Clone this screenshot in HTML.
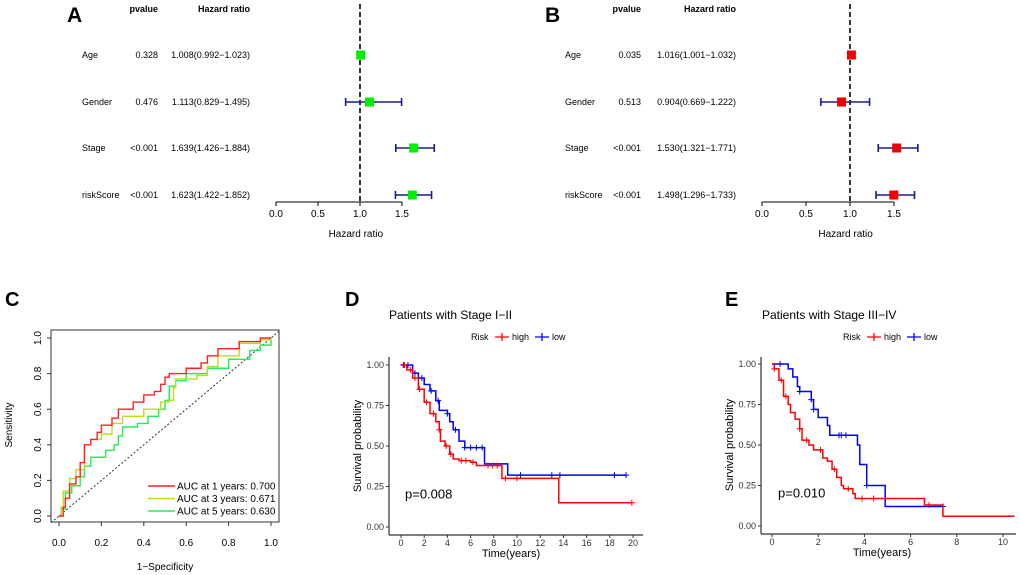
<!DOCTYPE html>
<html><head><meta charset="utf-8">
<style>
body{margin:0;background:#fff;}
svg{display:block;font-family:"Liberation Sans",Arial,sans-serif;}
</style></head>
<body>
<svg id="fig" width="1020" height="575" viewBox="0 0 1020 575">
<g id="gA"></g>
<g id="gB"></g>
<g id="gC"></g>
<g id="gD"></g>
<g id="gE"></g>
</svg>
<script>
// ---- Forest data ----
const forestVars = ["Age","Gender","Stage","riskScore"];
const aP = ["0.328","0.476","<0.001","<0.001"];
const aHR = [1.008,1.113,1.639,1.623];
const aLo = [0.992,0.829,1.426,1.422];
const aHi = [1.023,1.495,1.884,1.852];
const bP = ["0.035","0.513","<0.001","<0.001"];
const bHR = [1.016,0.904,1.530,1.498];
const bLo = [1.001,0.669,1.321,1.296];
const bHi = [1.032,1.222,1.771,1.733];
const forestTicks = [0,0.5,1.0,1.5];
// ---- ROC data ----
const rocTicks = [0,0.2,0.4,0.6,0.8,1.0];
const roc1x = [0,0.02,0.03,0.05,0.08,0.1,0.12,0.15,0.18,0.2,0.25,0.28,0.35,0.4,0.45,0.48,0.5,0.52,0.6,0.67,0.7,0.75,0.85,0.95,1];
const roc1y = [0,0.05,0.1,0.18,0.22,0.3,0.4,0.43,0.47,0.51,0.55,0.6,0.64,0.68,0.7,0.74,0.78,0.8,0.83,0.86,0.9,0.94,0.98,1,1];
const roc3x = [0,0.01,0.02,0.05,0.08,0.12,0.15,0.2,0.25,0.3,0.4,0.48,0.52,0.54,0.55,0.65,0.7,0.75,0.85,0.95,1];
const roc3y = [0,0.05,0.14,0.21,0.26,0.4,0.43,0.46,0.52,0.56,0.6,0.64,0.65,0.72,0.77,0.79,0.84,0.9,0.97,0.99,1];
const roc5x = [0,0.01,0.03,0.06,0.1,0.12,0.15,0.22,0.26,0.28,0.3,0.37,0.42,0.47,0.5,0.52,0.55,0.6,0.7,0.8,0.9,0.95,1];
const roc5y = [0,0.04,0.13,0.17,0.22,0.28,0.33,0.37,0.4,0.45,0.5,0.52,0.56,0.6,0.65,0.73,0.76,0.8,0.83,0.88,0.93,0.96,1];
const rocLegend = ["AUC at 1 years: 0.700","AUC at 3 years: 0.671","AUC at 5 years: 0.630"];
// ---- KM data ----
const kmYTicks = [0,0.25,0.5,0.75,1.0];
const kmYLabels = ["0.00","0.25","0.50","0.75","1.00"];
const dXTicks = [0,2,4,6,8,10,12,14,16,18,20];
const dHighT = [0,0.5,1,1.5,2,2.5,3,3.3,3.4,3.8,4.2,4.5,5,6,6.5,8.7,13.6,19.9];
const dHighS = [1,0.97,0.92,0.85,0.77,0.7,0.65,0.6,0.53,0.5,0.45,0.42,0.41,0.4,0.38,0.3,0.15,0.15];
const dLowT = [0,1,1.5,2,2.5,3,3.3,4,4.2,4.5,5,5.5,7.2,9.2,19.4];
const dLowS = [1,0.95,0.92,0.88,0.84,0.78,0.72,0.7,0.65,0.6,0.53,0.49,0.39,0.32,0.32];
const dHighCens = [0.3,0.8,1.2,1.6,2.2,2.8,3.3,3.9,4.3,5.2,5.6,6.2,7.5,7.9,8.3,9,10,19.9];
const dLowCens = [0.2,0.6,1.2,1.8,2.6,3.2,4,4.7,5.5,6,6.5,7,10.3,13,13.7,18.4,19.4];
const eXTicks = [0,2,4,6,8,10];
const eHighT = [0,0.1,0.3,0.5,0.7,0.8,1,1.2,1.3,1.6,1.8,2.2,2.4,2.6,2.8,3,3.1,3.5,3.6,6.6,7.4,10.5];
const eHighS = [1,0.97,0.9,0.8,0.75,0.7,0.66,0.6,0.53,0.5,0.47,0.42,0.4,0.35,0.3,0.25,0.23,0.2,0.17,0.13,0.06,0.06];
const eLowT = [0,0.7,0.9,1.1,1.2,1.7,1.8,2,2.4,2.5,3.7,3.8,4.1,4.9,7.4];
const eLowS = [1,0.97,0.92,0.86,0.83,0.78,0.72,0.67,0.62,0.56,0.5,0.38,0.25,0.12,0.12];
const eHighCens = [0.1,0.4,0.6,1.2,1.5,2.1,2.7,3.3,3.9,4.4,6.8];
const eLowCens = [0.35,1.2,1.7,1.8,2.9,3.0,3.2,4.1,7.4];

const NS="http://www.w3.org/2000/svg";
function mk(parent,tag,attrs,text){const e=document.createElementNS(NS,tag);for(const k in attrs)e.setAttribute(k,attrs[k]);if(text!==undefined)e.textContent=text;parent.appendChild(e);return e;}

function forest(g,o){
  const x=v=>o.x0+v*o.k;
  const rows=[55,102,148,195];
  let t=mk(g,'text',{x:o.letterX,y:22,'font-size':21,'font-weight':'bold'},o.letter);
  
  t=mk(g,'text',{x:o.pX,y:12,'font-size':9,'font-weight':'bold','text-anchor':'end'},'pvalue');
  
  t=mk(g,'text',{x:o.hrX,y:12,'font-size':9,'font-weight':'bold','text-anchor':'end'},'Hazard ratio');
  
  let l=mk(g,'line',{x1:x(1),x2:x(1),y1:4,y2:202,stroke:'#000','stroke-width':1.6,'stroke-dasharray':'5,3'});
  
  forestVars.forEach((v,i)=>{
    const y=rows[i];
    let a=mk(g,'text',{x:o.nameX,y:y+3,'font-size':9},v);
    
    a=mk(g,'text',{x:o.pX,y:y+3,'font-size':9,'text-anchor':'end'},o.p[i]);
    
    a=mk(g,'text',{x:o.hrX,y:y+3,'font-size':9,'text-anchor':'end'},o.hr[i].toFixed(3)+'('+o.lo[i].toFixed(3)+'\u2212'+o.hi[i].toFixed(3)+')');
    
    const ci=mk(g,'path',{d:`M${x(o.lo[i])},${y}H${x(o.hi[i])}M${x(o.lo[i])},${y-4}V${y+4}M${x(o.hi[i])},${y-4}V${y+4}`,stroke:'#1a1a8c','stroke-width':1.6,fill:'none'});
    
    const r=mk(g,'rect',{x:x(o.hr[i])-4.5,y:y-4.5,width:9,height:9,fill:o.col});
    
  });
  l=mk(g,'line',{x1:x(0),x2:x(1.5),y1:202,y2:202,stroke:'#000'});
  
  forestTicks.forEach(v=>{
    mk(g,'line',{x1:x(v),x2:x(v),y1:202,y2:206,stroke:'#000'});
    const tt=mk(g,'text',{x:x(v),y:217,'font-size':10,'text-anchor':'middle'},v.toFixed(1));
    
  });
  t=mk(g,'text',{x:x(0.95),y:237,'font-size':10,'text-anchor':'middle'},'Hazard ratio');
  
}
forest(document.getElementById('gA'),{x0:276,k:84,letter:'A',letterX:67,nameX:82,pX:158,hrX:250,p:aP,hr:aHR,lo:aLo,hi:aHi,col:'#00ee00'});
forest(document.getElementById('gB'),{x0:762,k:88,letter:'B',letterX:545,nameX:565,pX:641,hrX:736,p:bP,hr:bHR,lo:bLo,hi:bHi,col:'#ee0000'});

// ROC
(function(){
  const g=document.getElementById('gC');
  const x=v=>59+v*212, y=v=>516-v*178;
  let t=mk(g,'text',{x:5,y:306,'font-size':20,'font-weight':'bold'},'C');
  
  const box=mk(g,'rect',{x:51,y:330,width:228,height:192,fill:'none',stroke:'#333'});
  
  const dg=mk(g,'line',{x1:51,y1:y((51-59)/212*-1*-1),x2:279,y2:y((279-59)/212),stroke:'#333','stroke-dasharray':'2,2'});
  dg.setAttribute('x1',51);dg.setAttribute('y1',y(-8/212));
  
  rocTicks.forEach(v=>{
    mk(g,'line',{x1:x(v),x2:x(v),y1:522,y2:526,stroke:'#333'});
    let a=mk(g,'text',{x:x(v),y:546,'font-size':10,'text-anchor':'middle'},v.toFixed(1));
    
    mk(g,'line',{x1:47,x2:51,y1:y(v),y2:y(v),stroke:'#333'});
    a=mk(g,'text',{x:0,y:0,'font-size':10,'text-anchor':'middle',transform:`translate(41,${y(v)}) rotate(-90)`},v.toFixed(1));
    
  });
  t=mk(g,'text',{x:165,y:570,'font-size':10,'text-anchor':'middle'},'1\u2212Specificity');
  
  t=mk(g,'text',{x:0,y:0,'font-size':10,'text-anchor':'middle',transform:'translate(12,425) rotate(-90)'},'Sensitivity');
  
  const series=[[roc5x,roc5y,'#22ee55'],[roc3x,roc3y,'#bbdd22'],[roc1x,roc1y,'#ff2222']];
  series.forEach(([xs,ys,c],si)=>{
    let d='M'+x(xs[0])+','+y(ys[0]);
    for(let i=1;i<xs.length;i++){d+='H'+x(xs[i])+'V'+y(ys[i]);}
    const p=mk(g,'path',{d,fill:'none',stroke:c,'stroke-width':1.4});
    
  });
  const lc=['#ff2222','#bbdd22','#22ee55'];
  rocLegend.forEach((s,i)=>{
    const yy=486+i*12.5;
    const l=mk(g,'line',{x1:148,x2:175,y1:yy,y2:yy,stroke:lc[i],'stroke-width':1.5});
    
    const a=mk(g,'text',{x:177,y:yy+3.5,'font-size':10},s);
    
  });
})();

// KM
function km(g,o){
  const x=v=>o.x0+v*o.kx, y=v=>o.y0-v*o.ky;
  let t=mk(g,'text',{x:o.letterX,y:o.letterY,'font-size':20,'font-weight':'bold'},o.letter);
  
  t=mk(g,'text',{x:o.titleX,y:319,'font-size':12},o.title);
  
  t=mk(g,'text',{x:o.legX,y:340,'font-size':9},'Risk');
  
  [['high','#ff0000',o.legX+24],['low','#0000ff',o.legX+64]].forEach(([n,c,lx])=>{
    const l=mk(g,'path',{d:`M${lx},337H${lx+14}M${lx+7},333V341`,stroke:c,'stroke-width':1.3});
    
    const a=mk(g,'text',{x:lx+17,y:340,'font-size':9},n);
    
  });
  let l=mk(g,'line',{x1:o.axX,x2:o.axX,y1:357,y2:o.axY,stroke:'#333','stroke-width':1.2});
  
  l=mk(g,'line',{x1:o.axX,x2:o.axEnd,y1:o.axY,y2:o.axY,stroke:'#333','stroke-width':1.2});
  
  kmYTicks.forEach((v,i)=>{
    mk(g,'line',{x1:o.axX-3,x2:o.axX,y1:y(v),y2:y(v),stroke:'#333'});
    const a=mk(g,'text',{x:o.axX-5,y:y(v)+3,'font-size':9,'text-anchor':'end',fill:'#333'},kmYLabels[i]);
    
  });
  o.xt.forEach(v=>{
    mk(g,'line',{x1:x(v),x2:x(v),y1:o.axY,y2:o.axY+3,stroke:'#333'});
    const a=mk(g,'text',{x:x(v),y:o.axY+11,'font-size':9,'text-anchor':'middle',fill:'#333'},String(v));
    
  });
  t=mk(g,'text',{x:x(o.xt[o.xt.length-1])/2+o.axX/2,y:o.axY+22,'font-size':11,'text-anchor':'middle'},'Time(years)');
  
  t=mk(g,'text',{x:0,y:0,'font-size':11,'text-anchor':'middle',transform:`translate(${o.axX-28},${y(0.5)}) rotate(-90)`},'Survival probability');
  
  t=mk(g,'text',{x:o.pX,y:y(0.2)+4,'font-size':13},o.pText);
  
  const step=(T,S)=>{let d='M'+x(T[0])+','+y(S[0]);for(let i=1;i<T.length;i++){d+='H'+x(T[i])+'V'+y(S[i]);}return d;};
  const sAt=(T,S,t)=>{let s=S[0];for(let i=0;i<T.length;i++){if(T[i]<=t)s=S[i];}return s;};
  [[o.lowT,o.lowS,o.lowC,'#0000ff','low'],[o.highT,o.highS,o.highC,'#ff0000','high']].forEach(([T,S,C,c,n])=>{
    const p=mk(g,'path',{d:step(T,S),fill:'none',stroke:c,'stroke-width':1.5});
    
    let d='';C.forEach(t=>{const yy=y(sAt(T,S,t));d+=`M${x(t)-3},${yy}H${x(t)+3}M${x(t)},${yy-3}V${yy+3}`;});
    const m=mk(g,'path',{d,stroke:c,'stroke-width':1});
    
  });
}
km(document.getElementById('gD'),{x0:401,kx:11.6,y0:527,ky:162,axX:389,axY:535,axEnd:643,letter:'D',letterX:345,letterY:306,title:'Patients with Stage I\u2212II',titleX:389,legX:471,xt:dXTicks,pX:405,pText:'p=0.008',highT:dHighT,highS:dHighS,lowT:dLowT,lowS:dLowS,highC:dHighCens,lowC:dLowCens});
km(document.getElementById('gE'),{x0:772,kx:23.1,y0:526,ky:162,axX:761,axY:534,axEnd:1016,letter:'E',letterX:725,letterY:306,title:'Patients with Stage III\u2212IV',titleX:762,legX:843,xt:eXTicks,pX:778,pText:'p=0.010',highT:eHighT,highS:eHighS,lowT:eLowT,lowS:eLowS,highC:eHighCens,lowC:eLowCens});
</script>
</body></html>
